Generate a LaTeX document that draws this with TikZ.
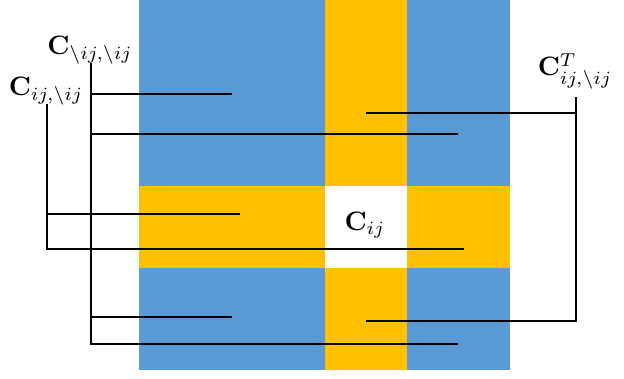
\documentclass[tikz,border=0pt]{standalone}
\usepackage{amsmath,amssymb}
\definecolor{bblue}{HTML}{5B9BD5}
\definecolor{byellow}{HTML}{FFC000}
\begin{document}
\begin{tikzpicture}[x=0.375pt,y=-0.375pt,
  lbl/.style={inner sep=0pt,anchor=base},
  conn/.style={line width=0.45pt,black}]
\useasboundingbox (0,0) rectangle (624,379);
% blocks
\fill[bblue] (139,0) rectangle (510,370);
\fill[byellow] (325,0) rectangle (407,370);
\fill[byellow] (139,186) rectangle (510,268);
\fill[white] (325,186) rectangle (407,268);
% labels
\node[lbl] (lA) at (90,55) {$\mathbf{C}_{\setminus ij,\setminus ij}$};
\node[lbl] (lB) at (46,96) {$\mathbf{C}_{ij,\setminus ij}$};
\node[lbl] (lC) at (575,76) {$\mathbf{C}^T_{ij,\setminus ij}$};
\node[lbl] (lD) at (365,231) {$\mathbf{C}_{ij}$};
% endpoints
\coordinate (a0) at (91,63);
\coordinate (a1) at (232,94);
\coordinate (a2) at (458,134);
\coordinate (a3) at (232,317);
\coordinate (a4) at (458,344);
\coordinate (b0) at (47,104);
\coordinate (b1) at (240,214);
\coordinate (b2) at (464,249);
\coordinate (c0) at (576,97);
\coordinate (c1) at (366,113);
\coordinate (c2) at (366,321);
% connectors
\draw[conn] (a0) -- (a0 |- a4) -- (a4);
\draw[conn] (a0 |- a1) -- (a1);
\draw[conn] (a0 |- a2) -- (a2);
\draw[conn] (a0 |- a3) -- (a3);
\draw[conn] (b0) -- (b0 |- b2) -- (b2);
\draw[conn] (b0 |- b1) -- (b1);
\draw[conn] (c0) -- (c0 |- c2) -- (c2);
\draw[conn] (c0 |- c1) -- (c1);
\end{tikzpicture}
\end{document}
